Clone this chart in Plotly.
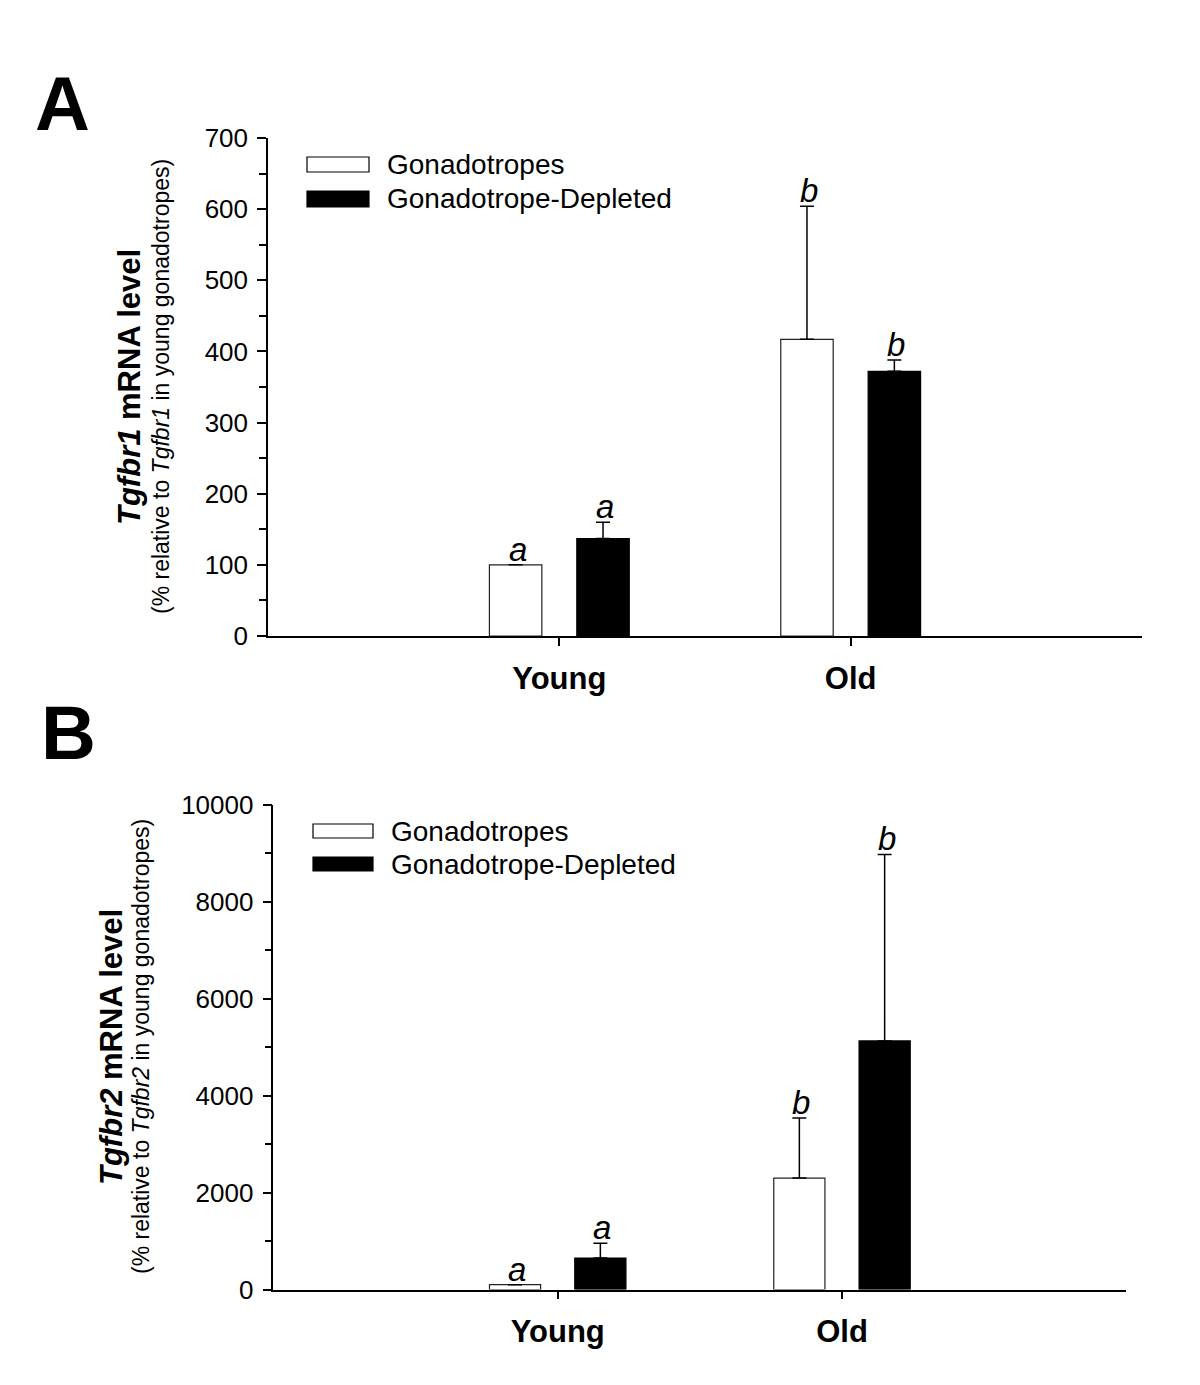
import plotly.graph_objects as go

# ---------------- data ----------------
categories = ["Young", "Old"]
series_names = ["Gonadotropes", "Gonadotrope-Depleted"]

# Panel A: Tgfbr1 (% relative to Tgfbr1 in young gonadotropes)
a_gonado = [100, 417]
a_gonado_err = [0, 187]
a_depleted = [137, 372]
a_depleted_err = [23, 16]
a_gonado_letters = ["a", "b"]
a_depleted_letters = ["a", "b"]

# Panel B: Tgfbr2 (% relative to Tgfbr2 in young gonadotropes)
b_gonado = [100, 2300]
b_gonado_err = [0, 1240]
b_depleted = [650, 5130]
b_depleted_err = [305, 3850]
b_gonado_letters = ["a", "b"]
b_depleted_letters = ["a", "b"]

a_yrange = [0, 700]
a_ydtick = 100
b_yrange = [0, 10000]
b_ydtick = 2000

# ---------------- layout helpers ----------------
W, H = 1200, 1385
PAGE_OFF = 8  # default body margin of the html page
FONT = "Arial, 'Liberation Sans', Helvetica, sans-serif"


def px(x):
    return (x - PAGE_OFF) / W


def py(y):
    return 1 - (y - PAGE_OFF) / H


BAR_W = 0.18
OFF_G = -0.24
OFF_D = 0.06

fig = go.Figure()


def add_panel(xa, ya, gon, gon_err, dep, dep_err):
    zeros = [0] * len(categories)
    fig.add_trace(go.Bar(
        x=categories, y=gon, name=series_names[0], xaxis=xa, yaxis=ya,
        offset=OFF_G, width=BAR_W,
        marker=dict(color="white", line=dict(color="#222222", width=1.2)),
        error_y=dict(type="data", array=gon_err, arrayminus=zeros, symmetric=False,
                     color="black", thickness=1.5, width=7),
        showlegend=False))
    fig.add_trace(go.Bar(
        x=categories, y=dep, name=series_names[1], xaxis=xa, yaxis=ya,
        offset=OFF_D, width=BAR_W,
        marker=dict(color="black", line=dict(color="black", width=1.2)),
        error_y=dict(type="data", array=dep_err, arrayminus=zeros, symmetric=False,
                     color="black", thickness=1.5, width=7),
        showlegend=False))


add_panel("x", "y", a_gonado, a_gonado_err, a_depleted, a_depleted_err)
add_panel("x2", "y2", b_gonado, b_gonado_err, b_depleted, b_depleted_err)

xcommon = dict(
    type="category", range=[-1, 2], showline=True, linecolor="black", linewidth=1.5,
    ticks="outside", ticklen=8, tickwidth=1.5, tickcolor="black",
    tickfont=dict(family=FONT, size=31, color="black", weight="bold"),
    ticklabelstandoff=6, showgrid=False, zeroline=False, fixedrange=True, automargin=False,
)
ycommon = dict(
    showline=True, linecolor="black", linewidth=1.5,
    ticks="outside", ticklen=9, tickwidth=1.5, tickcolor="black",
    tickfont=dict(family=FONT, size=26, color="black"), tickformat="d",
    ticklabelstandoff=4, showgrid=False, zeroline=False, fixedrange=True, automargin=False,
)

fig.update_layout(
    template="none",
    width=W, height=H, margin=dict(l=0, r=0, t=0, b=0, pad=0, autoexpand=False),
    paper_bgcolor="white", plot_bgcolor="white",
    barmode="overlay", showlegend=False,
    font=dict(family=FONT, color="black"),
    xaxis=dict(domain=[px(268), px(1142)], anchor="y", **xcommon),
    yaxis=dict(domain=[py(636), py(138)], anchor="x", range=a_yrange, tick0=0, dtick=a_ydtick,
               minor=dict(dtick=a_ydtick / 2, ticks="outside", ticklen=7, tickwidth=1.5,
                          tickcolor="black", showgrid=False),
               **ycommon),
    xaxis2=dict(domain=[px(273.4), px(1126.3)], anchor="y2", **xcommon),
    yaxis2=dict(domain=[py(1289.5), py(805)], anchor="x2", range=b_yrange, tick0=0, dtick=b_ydtick,
                minor=dict(dtick=b_ydtick / 2, ticks="outside", ticklen=7, tickwidth=1.5,
                           tickcolor="black", showgrid=False),
                **ycommon),
)

ann = []
shapes = []


# significance letters
def letters(xref, yref, vals, errs, labs, off):
    for i, (v, e, t) in enumerate(zip(vals, errs, labs)):
        ann.append(dict(
            x=i + off + BAR_W / 2, y=v + e, xref=xref, yref=yref,
            text=t, showarrow=False, xanchor="center", yanchor="bottom", yshift=-5, xshift=2,
            font=dict(family=FONT, size=33, color="black", style="italic")))


letters("x", "y", a_gonado, a_gonado_err, a_gonado_letters, OFF_G)
letters("x", "y", a_depleted, a_depleted_err, a_depleted_letters, OFF_D)
letters("x2", "y2", b_gonado, b_gonado_err, b_gonado_letters, OFF_G)
letters("x2", "y2", b_depleted, b_depleted_err, b_depleted_letters, OFF_D)

# panel labels
for lab, cx, cy in [("A", 62, 104), ("B", 68, 732)]:
    ann.append(dict(x=px(cx), y=py(cy), xref="paper", yref="paper", text=lab,
                    showarrow=False, xanchor="center", yanchor="middle",
                    font=dict(family=FONT, size=76, color="black", weight="bold")))

# y-axis titles
for gene, x1, x2, cy in [("Tgfbr1", 129, 161, 387), ("Tgfbr2", 111, 141, 1047)]:
    ann.append(dict(x=px(x1), y=py(cy), xref="paper", yref="paper",
                    text=f"<b><i>{gene}</i> mRNA level</b>", textangle=-90,
                    showarrow=False, xanchor="center", yanchor="middle",
                    font=dict(family=FONT, size=31, color="black")))
    ann.append(dict(x=px(x2), y=py(cy), xref="paper", yref="paper",
                    text=f"(% relative to <i>{gene}</i> in young gonadotropes)", textangle=-90,
                    showarrow=False, xanchor="center", yanchor="middle",
                    font=dict(family=FONT, size=23, color="black")))

# legends (swatches + text)
for (sx0, sx1, tx, rows) in [
    (307, 369, 385, [(157, 172), (191, 207)]),
    (313, 373, 389, [(824, 838), (857, 871)]),
]:
    for k, (y0, y1) in enumerate(rows):
        fill = "white" if k == 0 else "black"
        shapes.append(dict(type="rect", xref="paper", yref="paper",
                           x0=px(sx0), x1=px(sx1), y0=py(y1), y1=py(y0),
                           fillcolor=fill, line=dict(color="black", width=1.2)))
        ann.append(dict(x=px(tx), y=py((y0 + y1) / 2), xref="paper", yref="paper",
                        text=series_names[k], showarrow=False, xanchor="left", yanchor="middle",
                        font=dict(family=FONT, size=28, color="black")))

fig.update_layout(annotations=ann, shapes=shapes)

fig.write_html("out.html")
